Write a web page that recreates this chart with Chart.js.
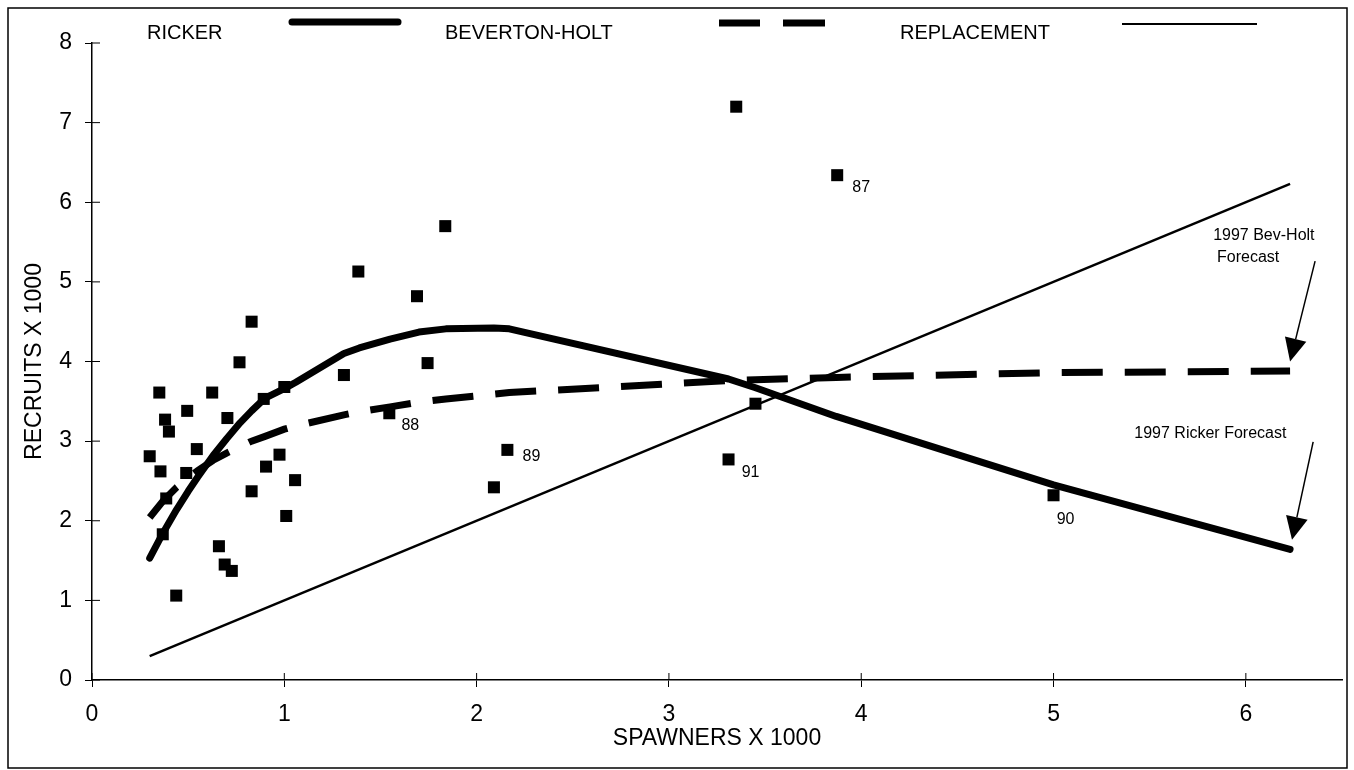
<!DOCTYPE html>
<html>
<head>
<meta charset="utf-8">
<script src="https://cdn.jsdelivr.net/npm/chart.js@4/dist/chart.umd.min.js"></script>
<style>
html, body { margin: 0; padding: 0; background: #fff; }
canvas { display: block; }
</style>
</head>
<body>
<canvas id="srChart" width="1354" height="770"></canvas>
<script>
// observed brood years (spawners, recruits; thousands)
const spawners = [0.30, 0.35, 0.356, 0.38, 0.40, 0.495, 0.49, 0.545, 0.625, 0.704, 0.767, 0.83, 0.83, 0.893, 0.905,
  0.975, 1.00, 1.056, 1.31, 1.385, 1.546, 1.69, 1.745, 0.386, 0.368, 0.438, 0.66, 0.69, 0.727, 1.01,
  1.837, 3.35, 3.875, 2.16, 2.09, 3.45, 3.31, 5.00];
const recruits = [2.81, 3.61, 2.62, 3.27, 3.12, 3.38, 2.60, 2.90, 3.61, 3.29, 3.99, 4.50, 2.37, 3.53, 2.68,
  2.83, 3.68, 2.51, 3.83, 5.13, 3.35, 4.82, 3.98, 2.28, 1.83, 1.06, 1.68, 1.45, 1.37, 2.06,
  5.70, 7.20, 6.34, 2.89, 2.42, 3.47, 2.77, 2.32];

// fitted curves
const curveS = [0.30, 0.37, 0.44, 0.50, 0.55, 0.63, 0.70, 0.77, 0.83, 0.90, 1.00, 1.06, 1.31, 1.39, 1.55,
  1.70, 1.84, 2.09, 2.17, 3.31, 3.45, 3.87, 5.00, 6.23];
const rickerR = [1.53, 1.85, 2.14, 2.37, 2.55, 2.82, 3.03, 3.23, 3.38, 3.54, 3.66, 3.74, 4.10, 4.17, 4.28,
  4.37, 4.41, 4.42, 4.41, 3.78, 3.67, 3.31, 2.45, 1.64];
const bevHoltR = [2.04, 2.25, 2.42, 2.54, 2.63, 2.76, 2.85, 2.93, 3.00, 3.06, 3.15, 3.19, 3.33, 3.37, 3.43,
  3.49, 3.53, 3.59, 3.61, 3.76, 3.77, 3.80, 3.86, 3.88];
const replaceS = [0.30, 6.23];
const replaceR = [0.30, 6.23];

// labelled years
const yearText = ['87', '88', '89', '90', '91'];
const yearS = [3.875, 1.546, 2.16, 5.00, 3.31];
const yearR = [6.34, 3.35, 2.89, 2.32, 2.77];

const toXY = (xs, ys) => xs.map((x, i) => ({ x: x, y: ys[i] }));

const FONT = 'Arial, "Liberation Sans", sans-serif';
Chart.defaults.font.family = FONT;
Chart.defaults.color = '#000';

function arrow(ctx, x1, y1, x2, y2) {
  const ang = Math.atan2(y2 - y1, x2 - x1);
  const len = 23, half = 11;
  const bx = x2 - len * Math.cos(ang), by = y2 - len * Math.sin(ang);
  ctx.beginPath();
  ctx.moveTo(x1, y1);
  ctx.lineTo(bx, by);
  ctx.lineWidth = 1.5;
  ctx.stroke();
  ctx.beginPath();
  ctx.moveTo(x2, y2);
  ctx.lineTo(bx + half * Math.sin(ang), by - half * Math.cos(ang));
  ctx.lineTo(bx - half * Math.sin(ang), by + half * Math.cos(ang));
  ctx.closePath();
  ctx.fill();
}

const extras = {
  id: 'extras',
  afterDraw(chart) {
    const ctx = chart.ctx, xs = chart.scales.x, ys = chart.scales.y;
    const px = v => xs.getPixelForValue(v), py = v => ys.getPixelForValue(v);
    ctx.save();
    ctx.strokeStyle = '#000';
    ctx.fillStyle = '#000';

    // page frame
    ctx.lineWidth = 1.5;
    ctx.strokeRect(8, 8, 1339, 760);

    // tick marks crossing into the plot
    ctx.lineWidth = 1;
    ctx.beginPath();
    xs.ticks.forEach(t => { const x = px(t.value); ctx.moveTo(x, ys.bottom); ctx.lineTo(x, ys.bottom - 7); });
    ys.ticks.forEach(t => { const y = py(t.value); ctx.moveTo(xs.left, y); ctx.lineTo(xs.left + 8, y); });
    ctx.stroke();

    // legend row
    ctx.font = '20px ' + FONT;
    ctx.textBaseline = 'middle';
    ctx.textAlign = 'left';
    ctx.fillText('RICKER', 147, 33);
    ctx.fillText('BEVERTON-HOLT', 445, 33);
    ctx.fillText('REPLACEMENT', 900, 33);
    ctx.lineCap = 'round';
    ctx.lineWidth = 7;
    ctx.beginPath(); ctx.moveTo(292, 22); ctx.lineTo(398, 22); ctx.stroke();
    ctx.lineCap = 'butt';
    ctx.beginPath();
    ctx.moveTo(719, 23); ctx.lineTo(760, 23);
    ctx.moveTo(783, 23); ctx.lineTo(825, 23);
    ctx.stroke();
    ctx.lineWidth = 2;
    ctx.beginPath(); ctx.moveTo(1122, 24); ctx.lineTo(1257, 24); ctx.stroke();

    // year labels next to points
    const offs = [[24, 12], [21, 12], [24, 7], [12, 24], [22, 13]];
    ctx.font = '16px ' + FONT;
    ctx.textAlign = 'center';
    yearText.forEach((t, i) => ctx.fillText(t, px(yearS[i]) + offs[i][0], py(yearR[i]) + offs[i][1]));

    // forecast notes
    ctx.textAlign = 'left';
    ctx.fillText('1997 Bev-Holt', px(5.83), py(5.58));
    ctx.fillText('Forecast', px(5.85), py(5.30));
    ctx.fillText('1997 Ricker Forecast', px(5.42), py(3.10));
    arrow(ctx, px(6.36), py(5.26), px(6.23), py(4.00));
    arrow(ctx, px(6.35), py(2.99), px(6.24), py(1.76));
    ctx.restore();
  }
};

new Chart(document.getElementById('srChart'), {
  type: 'scatter',
  data: {
    datasets: [
      {
        label: 'RICKER',
        data: toXY(curveS, rickerR),
        showLine: true,
        borderColor: '#000',
        borderWidth: 7,
        borderCapStyle: 'round',
        borderJoinStyle: 'round',
        pointRadius: 0,
        tension: 0,
        order: 1
      },
      {
        label: 'BEVERTON-HOLT',
        data: toXY(curveS, bevHoltR),
        showLine: true,
        borderColor: '#000',
        borderWidth: 7,
        borderDash: [41, 22],
        pointRadius: 0,
        tension: 0,
        order: 2
      },
      {
        label: 'REPLACEMENT',
        data: toXY(replaceS, replaceR),
        showLine: true,
        borderColor: '#000',
        borderWidth: 2.5,
        pointRadius: 0,
        order: 3
      },
      {
        label: 'Observed',
        data: toXY(spawners, recruits),
        pointStyle: 'rect',
        pointRadius: 8.5,
        backgroundColor: '#000',
        borderColor: '#000',
        borderWidth: 0,
        order: 4
      }
    ]
  },
  options: {
    responsive: false,
    animation: false,
    devicePixelRatio: 1,
    layout: { padding: { left: 0, right: 12, top: 43, bottom: 0 } },
    plugins: { legend: { display: false }, tooltip: { enabled: false } },
    scales: {
      x: {
        type: 'linear',
        min: 0,
        max: 6.5,
        afterFit: s => { s.height = 90; },
        ticks: { stepSize: 1, includeBounds: false, padding: 14, font: { size: 23 }, color: '#000' },
        grid: { drawOnChartArea: false, tickLength: 7, color: '#000', lineWidth: 1 },
        border: { color: '#000', width: 1.5 },
        title: { display: true, text: 'SPAWNERS X 1000', font: { size: 23 }, color: '#000', padding: { top: 0, bottom: 18 } }
      },
      y: {
        min: 0,
        max: 8,
        afterFit: s => { s.width = 92; },
        ticks: { stepSize: 1, padding: 13, font: { size: 23 }, color: '#000' },
        grid: { drawOnChartArea: false, tickLength: 7, color: '#000', lineWidth: 1 },
        border: { color: '#000', width: 1.5 },
        title: { display: true, text: 'RECRUITS X 1000', font: { size: 23 }, color: '#000', padding: { top: 21, bottom: 0 } }
      }
    }
  },
  plugins: [extras]
});
</script>
</body>
</html>
